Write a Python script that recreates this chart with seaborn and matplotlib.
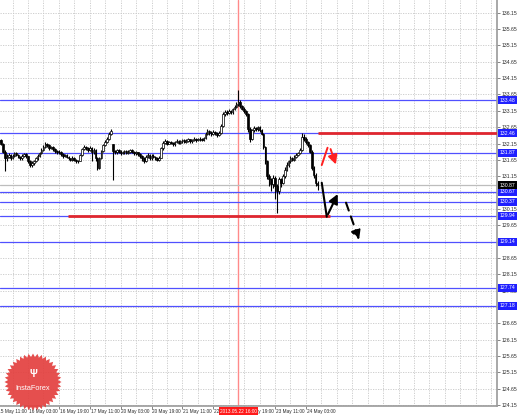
import matplotlib
matplotlib.use("Agg")
import matplotlib.pyplot as plt
import matplotlib.transforms as mtransforms
from matplotlib.patches import Polygon
import seaborn as sns
import numpy as np
import pandas as pd

# Hourly candles, index 0 = 15 May 11:00
first_open = 132.30
monday_open = 132.15  # open after the weekend gap
gap_index = 60

closes = [
    132.20, 132.25, 132.15, 131.90, 131.70, 131.75, 131.80, 131.72, 131.78, 131.85,
    131.80, 131.75, 131.70, 131.78, 131.82, 131.76, 131.60, 131.48, 131.55, 131.62,
    131.70, 131.78, 131.85, 131.95, 132.05, 132.15, 132.10, 132.02, 132.05, 131.98,
    131.92, 131.88, 131.90, 131.82, 131.78, 131.80, 131.74, 131.70, 131.66, 131.72,
    131.65, 131.60, 131.62, 131.80, 131.98, 132.05, 132.00, 131.95, 132.02, 131.88,
    131.96, 131.70, 131.40, 131.70, 131.92, 132.10, 132.20, 132.30, 132.45, 132.52,
    131.92, 131.88, 131.95, 131.90, 131.85, 131.88, 131.92, 131.86, 131.90, 131.95,
    131.90, 131.85, 131.88, 131.82, 131.78, 131.70, 131.62, 131.75, 131.80, 131.72,
    131.78, 131.74, 131.70, 131.66, 131.72, 132.00, 132.18, 132.22, 132.15, 132.20,
    132.18, 132.12, 132.20, 132.24, 132.18, 132.22, 132.26, 132.20, 132.24, 132.28,
    132.22, 132.26, 132.30, 132.25, 132.28, 132.30, 132.27, 132.32, 132.45, 132.52,
    132.48, 132.44, 132.50, 132.46, 132.42, 132.48, 132.70, 133.05, 133.12, 133.08,
    133.15, 133.10, 133.20, 133.28, 133.35, 133.42, 133.30, 133.22, 133.15, 133.05,
    132.60, 132.30, 132.55, 132.62, 132.58, 132.65, 132.55, 132.45, 132.05, 131.60,
    131.15, 131.05, 130.90, 131.10, 130.85, 130.70, 131.05, 130.95, 131.15, 131.35,
    131.50, 131.60, 131.70, 131.66, 131.75, 131.80, 131.85, 131.95, 132.35, 132.30,
    132.20, 132.10, 131.90, 131.40, 131.20, 130.95, 130.87,
]
highs = [
    132.35, 132.30, 132.28, 132.18, 131.95, 131.82, 131.85, 131.84, 131.82, 131.90,
    131.88, 131.84, 131.78, 131.82, 131.86, 131.85, 131.78, 131.64, 131.60, 131.66,
    131.74, 131.82, 131.90, 132.00, 132.10, 132.20, 132.18, 132.12, 132.08, 132.08,
    132.00, 131.95, 131.94, 131.92, 131.85, 131.84, 131.82, 131.76, 131.72, 131.76,
    131.74, 131.68, 131.66, 131.84, 132.02, 132.10, 132.08, 132.04, 132.06, 132.04,
    132.00, 131.98, 131.74, 131.75, 131.96, 132.14, 132.25, 132.35, 132.50, 132.58,
    132.15, 131.96, 131.99, 131.98, 131.94, 131.92, 131.96, 131.95, 131.94, 131.99,
    131.98, 131.93, 131.92, 131.90, 131.85, 131.80, 131.74, 131.80, 131.86, 131.84,
    131.82, 131.82, 131.77, 131.73, 131.76, 132.05, 132.24, 132.28, 132.26, 132.24,
    132.24, 132.20, 132.24, 132.28, 132.27, 132.26, 132.30, 132.28, 132.28, 132.32,
    132.30, 132.30, 132.34, 132.33, 132.32, 132.34, 132.33, 132.36, 132.50, 132.58,
    132.56, 132.52, 132.55, 132.54, 132.50, 132.52, 132.76, 133.10, 133.18, 133.16,
    133.20, 133.18, 133.25, 133.33, 133.42, 133.78, 133.48, 133.34, 133.26, 133.18,
    133.08, 132.64, 132.60, 132.68, 132.66, 132.70, 132.68, 132.58, 132.48, 132.08,
    131.64, 131.22, 131.10, 131.18, 131.15, 130.90, 131.12, 131.10, 131.22, 131.42,
    131.58, 131.66, 131.76, 131.75, 131.80, 131.86, 131.90, 132.00, 132.47, 132.44,
    132.34, 132.24, 132.14, 131.94, 131.45, 131.25, 131.00,
]
lows = [
    132.15, 132.15, 132.10, 131.85, 131.30, 131.62, 131.70, 131.66, 131.68, 131.74,
    131.76, 131.70, 131.64, 131.66, 131.74, 131.70, 131.55, 131.42, 131.44, 131.50,
    131.58, 131.66, 131.74, 131.82, 131.92, 132.02, 132.04, 131.96, 131.98, 131.92,
    131.86, 131.82, 131.84, 131.78, 131.72, 131.74, 131.70, 131.64, 131.60, 131.62,
    131.60, 131.55, 131.56, 131.60, 131.78, 131.95, 131.96, 131.90, 131.92, 131.60,
    131.84, 131.62, 131.34, 131.38, 131.68, 131.90, 132.06, 132.16, 132.26, 132.40,
    131.03, 131.82, 131.84, 131.86, 131.80, 131.82, 131.84, 131.82, 131.82, 131.86,
    131.86, 131.80, 131.80, 131.76, 131.72, 131.60, 131.56, 131.58, 131.70, 131.64,
    131.66, 131.70, 131.64, 131.60, 131.62, 131.70, 131.96, 132.14, 132.10, 132.12,
    132.12, 132.06, 132.08, 132.16, 132.14, 132.14, 132.18, 132.16, 132.16, 132.20,
    132.18, 132.18, 132.22, 132.20, 132.22, 132.24, 132.22, 132.24, 132.30, 132.42,
    132.42, 132.38, 132.40, 132.42, 132.36, 132.38, 132.44, 132.66, 133.00, 133.02,
    133.04, 133.04, 133.06, 133.16, 133.24, 133.30, 133.24, 133.16, 133.08, 132.98,
    132.50, 132.20, 132.26, 132.50, 132.52, 132.54, 132.50, 132.40, 131.98, 131.52,
    131.05, 130.85, 130.70, 130.80, 130.45, 130.03, 130.62, 130.82, 130.90, 131.10,
    131.30, 131.44, 131.55, 131.60, 131.62, 131.70, 131.76, 131.82, 131.92, 132.24,
    132.14, 132.04, 131.85, 131.35, 131.10, 130.85, 130.72,
]

# horizontal levels drawn across the chart
blue_levels = [133.48, 132.46, 131.87, 130.67, 130.37, 129.94, 129.14, 127.74, 127.18]
current_price = 130.87
red_upper = 132.46
red_lower = 129.94
marker_index = 125
marker_label = "2013.05.22 16:00"

x_tick_pos = [0, 16, 32, 48, 64, 80, 96, 112, 128, 144, 160]
x_tick_labels = ["15 May 11:00", "16 May 03:00", "16 May 19:00", "17 May 11:00",
                 "20 May 03:00", "20 May 19:00", "21 May 11:00", "22 May 03:00",
                 "22 May 19:00", "23 May 11:00", "24 May 03:00"]

# forecast arrows (index, price)
red_up_x = [168.2, 171.2]
red_up_y = [131.49, 132.02]
red_down_x = [172.3, 176.0]
red_down_y = [132.06, 131.43]
black_path_x = [168.2, 170.8, 177.1]
black_path_y = [130.95, 129.91, 130.68]
dash_path_x = [180.3, 188.0]
dash_path_y = [130.42, 129.12]

df = pd.DataFrame({"close": closes, "high": highs, "low": lows})
df["idx"] = np.arange(len(df))
df["open"] = df["close"].shift(1)
df.loc[0, "open"] = first_open
df.loc[gap_index, "open"] = monday_open

sns.set_style("white")
plt.rcParams["font.family"] = ["Liberation Sans", "DejaVu Sans"]
FS = 3.7
LBL = "#2a2a2a"

W, H = 518, 417
fig = plt.figure(figsize=(W / 100, H / 100), dpi=100)
ax = fig.add_axes([0, 11 / H, 497 / W, 406 / H])
ax.set_xlim(1.5, 259)
ax.set_ylim(124.12, 136.54)

# grid
y_ticks = np.arange(124.15, 136.2, 0.5)
for yv in y_ticks:
    ax.axhline(yv, color="#c8c8c8", lw=0.6, ls=(0, (1.5, 1.5)), zorder=0)
for xv in range(8, 260, 8):
    ax.axvline(xv, color="#c8c8c8", lw=0.6, ls=(0, (1.5, 1.5)), zorder=0)

# levels
for lv in blue_levels:
    ax.axhline(lv, color="#5050ff", lw=0.9, zorder=2)
ax.axhline(current_price, color="#bdbdbd", lw=0.9, zorder=2)
ax.hlines(red_upper, 166.5, 259, color="#e0262e", lw=2, zorder=3)
ax.hlines(red_lower, 36.7, 172.5, color="#e0262e", lw=2, zorder=3)
ax.axvline(marker_index, color="#ff8a8a", lw=1, zorder=1)

# candles
ax.vlines(df["idx"], df["low"], df["high"], color="black", lw=0.8, zorder=4)
bull = df[df["close"] >= df["open"]]
bear = df[df["close"] < df["open"]]
ax.bar(bull["idx"], (bull["close"] - bull["open"]).clip(lower=0.01), bottom=bull["open"],
       width=0.85, color="white", edgecolor="black", linewidth=0.5, zorder=5)
ax.bar(bear["idx"], bear["open"] - bear["close"], bottom=bear["close"],
       width=0.85, color="black", edgecolor="black", linewidth=0.5, zorder=5)

# forecast arrows
head = "-|>,head_length=0.55,head_width=0.28"
sns.lineplot(x=red_up_x, y=red_up_y, color="#ff2020", lw=1.4, ax=ax, zorder=6)
ax.annotate("", xy=(red_down_x[1], red_down_y[1]), xytext=(red_down_x[0], red_down_y[0]),
            arrowprops=dict(arrowstyle=head, color="#ff2020", lw=1.4), zorder=6)
sns.lineplot(x=black_path_x[:2], y=black_path_y[:2], color="black", lw=1.5, ax=ax,
             zorder=6, sort=False)
ax.annotate("", xy=(black_path_x[2], black_path_y[2]), xytext=(black_path_x[1], black_path_y[1]),
            arrowprops=dict(arrowstyle=head, color="black", lw=1.5), zorder=6)
ax.annotate("", xy=(dash_path_x[1], dash_path_y[1]), xytext=(dash_path_x[0], dash_path_y[0]),
            arrowprops=dict(arrowstyle=head, color="black", lw=1.5, ls=(0, (4, 3))), zorder=6)
if ax.get_legend():
    ax.get_legend().remove()

# axes styling
for s in ["left", "top"]:
    ax.spines[s].set_visible(False)
for s in ["right", "bottom"]:
    ax.spines[s].set_color("#9a9a9a")
    ax.spines[s].set_linewidth(1.2)
ax.yaxis.tick_right()
ax.set_yticks(y_ticks)
ax.set_yticklabels([f"{v:.2f}" for v in y_ticks])
ax.tick_params(axis="y", right=True, length=2, width=0.5, pad=1.5, labelsize=FS,
               labelcolor=LBL, color="#555555")
ax.set_xticks(x_tick_pos[1:])
ax.set_xticklabels([])
ax.tick_params(axis="x", bottom=True, length=2, width=0.5, color="#555555")
ax.set_xlabel("")
ax.set_ylabel("")

xtrans = mtransforms.blended_transform_factory(ax.transData, ax.transAxes)
for xp, lab in zip(x_tick_pos, x_tick_labels):
    ax.text(xp + 0.4, -0.013, lab, transform=xtrans, fontsize=3.45, color=LBL,
            va="center", ha="left", clip_on=False)

# level boxes on the price scale
ytrans = mtransforms.blended_transform_factory(ax.transAxes, ax.transData)
for lv in blue_levels:
    ax.text(1.005, lv, f"{lv:.2f}", transform=ytrans, fontsize=FS, color="white",
            va="center", ha="left", clip_on=False, zorder=10,
            bbox=dict(boxstyle="square,pad=0.3", fc="#2020ff", ec="none"))
ax.text(1.005, current_price, f"{current_price:.2f}", transform=ytrans, fontsize=FS,
        color="white", va="center", ha="left", clip_on=False, zorder=10,
        bbox=dict(boxstyle="square,pad=0.3", fc="black", ec="none"))

# time marker box
ax.text(115.5, -0.013, marker_label, transform=xtrans, fontsize=3.45, color="white",
        va="center", ha="left", clip_on=False, zorder=10,
        bbox=dict(boxstyle="square,pad=0.3", fc="#ff1a1a", ec="none"))

# InstaForex badge
cx, cy = 33, 382
ang = np.linspace(0, 2 * np.pi, 81)[:-1]
rad = np.where(np.arange(80) % 2 == 0, 28.5, 25)
pts = np.column_stack([(cx + rad * np.cos(ang)) / W, 1 - (cy + rad * np.sin(ang)) / H])
fig.patches.append(Polygon(pts, closed=True, transform=fig.transFigure,
                           fc="#e3403f", ec="none", alpha=0.92, zorder=20))
fig.text(cx / W, 1 - 388 / H, "InstaForex", color="white", fontsize=5.3,
         ha="center", va="center", zorder=21)
fig.text(cx / W, 1 - 374 / H, "\u03a8", color="white", fontsize=7, fontweight="bold",
         ha="center", va="center", zorder=21)

fig.savefig("out.png", dpi=100)
